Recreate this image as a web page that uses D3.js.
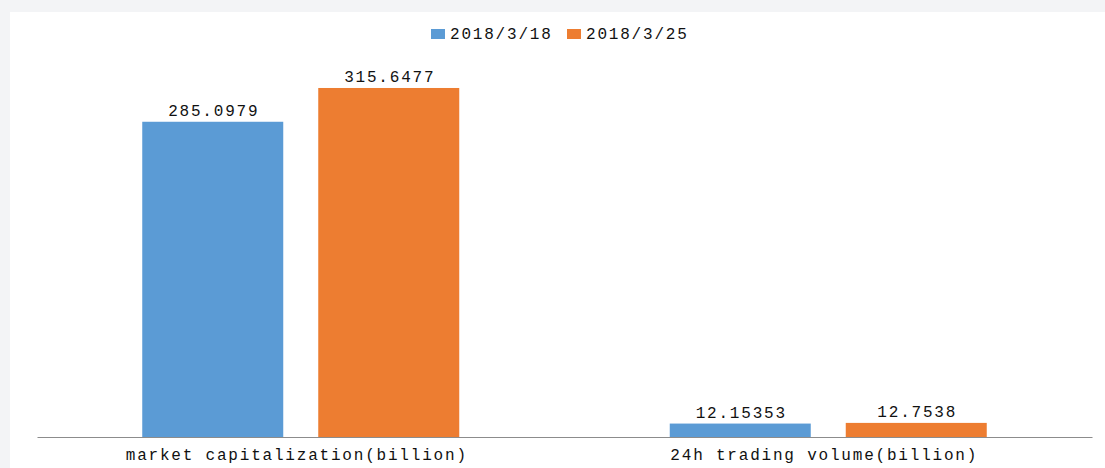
<!DOCTYPE html>
<meta charset="utf-8">
<head>
<style>
  body { margin: 0; background: #f3f4f6; }
  text { font-family: "Liberation Mono", "DejaVu Sans Mono", monospace; fill: #111; }
</style>
</head>
<script src="https://d3js.org/d3.v7.min.js"></script>
<body>
  <div id="my_dataviz"></div>
</body>
<script>

  // data
  var categories = ["market capitalization(billion)", "24h trading volume(billion)"];
  var seriesNames = ["2018/3/18", "2018/3/25"];
  var values0318 = [285.0979, 12.15353];
  var values0325 = [315.6477, 12.7538];
  var valueLabels0318 = ["285.0979", "12.15353"];
  var valueLabels0325 = ["315.6477", "12.7538"];
  var colors = ["#5b9bd5", "#ed7d31"];

  var W = 1105, H = 468;

  // build rows for the grouped bars
  var rows = [];
  categories.forEach(function(c, i) {
    rows.push({cat: c, series: seriesNames[0], v: values0318[i], label: valueLabels0318[i]});
    rows.push({cat: c, series: seriesNames[1], v: values0325[i], label: valueLabels0325[i]});
  });

  var svg = d3.select("#my_dataviz")
    .append("svg")
      .attr("width", W)
      .attr("height", H)
      .style("display", "block");

  // white panel over the grey page
  svg.append("rect")
    .attr("x", 10).attr("y", 12)
    .attr("width", W - 10).attr("height", H - 12)
    .attr("fill", "#ffffff");

  var x0 = d3.scaleBand()
    .domain(categories)
    .range([37, 1092]);

  // bars 141 wide with a 35 px gap, centred in each band
  var groupW = 317;
  var x1 = d3.scaleBand()
    .domain(seriesNames)
    .range([x0.bandwidth() / 2 - groupW / 2, x0.bandwidth() / 2 + groupW / 2])
    .paddingInner(35 / 176);

  var y = d3.scaleLinear()
    .domain([0, 350])
    .range([437, 50]);

  var color = d3.scaleOrdinal().domain(seriesNames).range(colors);

  svg.append("g")
    .selectAll("rect")
    .data(rows)
    .enter()
    .append("rect")
      .attr("x", function(d) { return x0(d.cat) + x1(d.series); })
      .attr("y", function(d) { return y(d.v); })
      .attr("width", x1.bandwidth())
      .attr("height", function(d) { return y(0) - y(d.v); })
      .attr("fill", function(d) { return color(d.series); });

  // value labels
  svg.append("g")
    .selectAll("text")
    .data(rows)
    .enter()
    .append("text")
      .attr("x", function(d) { return x0(d.cat) + x1(d.series) + x1.bandwidth() / 2 + 1; })
      .attr("y", function(d) { return y(d.v) - 6; })
      .attr("text-anchor", "middle")
      .style("font-size", "16px")
      .style("letter-spacing", "1.8px")
      .text(function(d) { return d.label; });

  // x axis
  var xAxis = svg.append("g")
    .attr("transform", "translate(0," + y(0) + ")")
    .call(d3.axisBottom(x0).tickSize(0).tickPadding(12));
  xAxis.select(".domain").attr("stroke", "#8c8c8c").attr("stroke-width", 1.2);
  xAxis.selectAll("text")
    .attr("dx", "-4")
    .style("font-family", "'Liberation Mono', monospace")
    .style("font-size", "16px")
    .style("letter-spacing", "1.8px")
    .style("fill", "#111");

  // legend
  var legendX = [431, 567];
  var legend = svg.append("g");
  seriesNames.forEach(function(s, i) {
    legend.append("rect")
      .attr("x", legendX[i]).attr("y", 29)
      .attr("width", 14).attr("height", 10)
      .attr("fill", color(s));
    legend.append("text")
      .attr("x", legendX[i] + 19).attr("y", 39)
      .style("font-size", "16px")
      .style("letter-spacing", "1.8px")
      .text(s);
  });

</script>
